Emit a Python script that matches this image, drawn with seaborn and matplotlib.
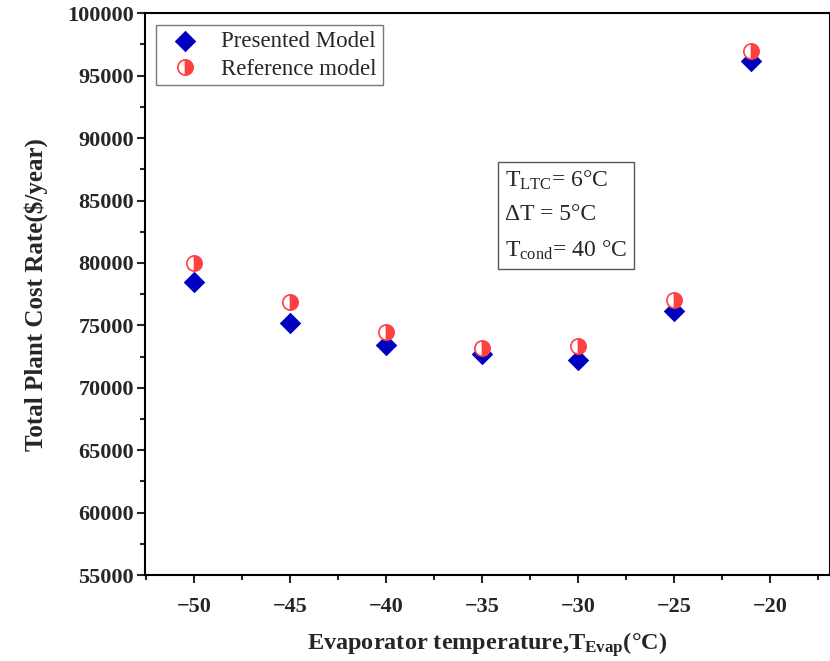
import numpy as np
import pandas as pd
import matplotlib
matplotlib.use("Agg")
import matplotlib.pyplot as plt
import seaborn as sns
from matplotlib.ticker import MultipleLocator, FuncFormatter

sns.set_theme(style="ticks")
plt.rcParams['font.family'] = ['Liberation Serif', 'DejaVu Serif']
plt.rcParams['mathtext.fontset'] = 'custom'
plt.rcParams['mathtext.rm'] = 'Liberation Serif'
plt.rcParams['mathtext.it'] = 'Liberation Serif:italic'
plt.rcParams['mathtext.bf'] = 'Liberation Serif:bold'

# data
t_evap = [-50, -45, -40, -35, -30, -25, -21]
presented = [78500, 75200, 73400, 72700, 72200, 76150, 96200]
reference = [80000, 76900, 74500, 73150, 73350, 77000, 97000]

df = pd.DataFrame({"T": t_evap, "Presented Model": presented, "Reference model": reference})

fig = plt.figure(figsize=(8.3, 6.61), dpi=100)
ax = fig.add_axes([0.1747, 0.130, 0.8253, 0.850])

sns.scatterplot(data=df, x="T", y="Presented Model", marker="D", s=120,
                color="#0000c0", edgecolor="#0000c0", linewidth=0,
                label="Presented Model", ax=ax, zorder=3)
sns.lineplot(data=df, x="T", y="Reference model", marker="o", linestyle="none",
             markersize=11, color="#ff4040", markerfacecolor="#ff4040",
             markerfacecoloralt="white", markeredgecolor="#ff4040",
             markeredgewidth=1.2, fillstyle="right",
             label="Reference model", ax=ax, zorder=4)

ax.set_xlim(-52.55, -16.9)
ax.set_ylim(55000, 100000)
ax.xaxis.set_major_locator(MultipleLocator(5))
ax.xaxis.set_minor_locator(MultipleLocator(2.5))
ax.yaxis.set_major_locator(MultipleLocator(5000))
ax.yaxis.set_minor_locator(MultipleLocator(2500))
ax.xaxis.set_major_formatter(FuncFormatter(lambda v, p: f"\u2212{abs(int(v))}" if v < 0 else f"{int(v)}"))

ax.tick_params(which="major", direction="out", length=6, width=1.5, labelsize=16)
ax.tick_params(axis="x", which="major", pad=10)
ax.tick_params(axis="y", which="major", pad=2)
ax.tick_params(which="minor", direction="out", length=3.5, width=1.5)
for lab in ax.get_xticklabels() + ax.get_yticklabels():
    lab.set_fontweight("bold")
for sp in ax.spines.values():
    sp.set_linewidth(1.5)
    sp.set_color("black")

ax.set_xlabel(r"Evaporator temperature,T$_{\mathbf{Evap}}$(°C)", fontsize=17.5,
              fontweight="bold")
ax.xaxis.set_label_coords(0.5, -0.098)
ax.set_ylabel("Total Plant Cost Rate($/year)", fontsize=18, fontweight="bold", labelpad=14)

leg = ax.legend(loc="upper left", bbox_to_anchor=(0.016, 0.979), borderaxespad=0,
                fontsize=16.5, frameon=True, fancybox=False, edgecolor="#555555",
                handletextpad=0.6, borderpad=0.25, labelspacing=0.3, handlelength=2.0)
leg.get_frame().set_linewidth(1.0)

ax.text(0.526, 0.64,
        "T$_{\\mathregular{LTC}}$= 6°C\n\u0394T = 5°C\nT$_{\\mathregular{cond}}$= 40 °C",
        transform=ax.transAxes, fontsize=17, linespacing=1.75, va="center", ha="left",
        bbox=dict(boxstyle="square,pad=0.3", facecolor="white", edgecolor="#555555", linewidth=1.0))

fig.savefig("out.png", dpi=100)
